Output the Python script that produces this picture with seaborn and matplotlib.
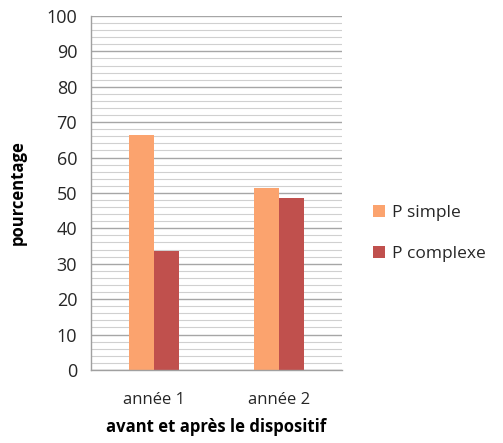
import matplotlib
matplotlib.use("Agg")
import matplotlib.pyplot as plt
import seaborn as sns
import pandas as pd
import numpy as np

categories = ["année 1", "année 2"]
series_names = ["P simple", "P complexe"]
p_simple = [66.4, 51.3]
p_complexe = [33.6, 48.6]
colors = ["#FBA36E", "#C0504D"]

df = pd.DataFrame({
    "annee": categories * 2,
    "serie": [series_names[0]] * 2 + [series_names[1]] * 2,
    "val": p_simple + p_complexe,
})

sns.set_style("white")
plt.rcParams["font.family"] = ["Open Sans", "DejaVu Sans"]

fig = plt.figure(figsize=(5.03, 4.43), dpi=100)
ax = fig.add_axes([0.181, 0.165, 0.499, 0.799])

sns.barplot(data=df, x="annee", y="val", hue="serie", palette=colors,
            width=0.4, gap=0, ax=ax, saturation=1, edgecolor="none")

ax.set_ylim(0, 100)
ax.set_xlim(-0.5, 1.5)
ax.set_yticks(np.arange(0, 101, 10))
ax.set_yticks(np.arange(0, 101, 2), minor=True)
ax.yaxis.grid(True, which="major", color="#A6A6A6", linewidth=1.0)
ax.yaxis.grid(True, which="minor", color="#D0D0D0", linewidth=0.8)
ax.set_axisbelow(True)

for s in ["top", "right"]:
    ax.spines[s].set_visible(False)
for s in ["left", "bottom"]:
    ax.spines[s].set_color("#A0A0A0")
    ax.spines[s].set_linewidth(1.0)

ax.tick_params(axis="y", which="major", length=5, color="#A0A0A0", labelsize=13, labelcolor="#262626", pad=5)
ax.tick_params(axis="y", which="minor", length=0)
ax.tick_params(axis="x", length=0, labelsize=12, labelcolor="#262626", pad=16)

ax.set_ylabel("pourcentage", fontsize=12, fontweight="bold", labelpad=14)
ax.set_xlabel("avant et après le dispositif", fontsize=12, fontweight="bold", labelpad=7)

leg = ax.legend(loc="center left", bbox_to_anchor=(1.06, 0.385), frameon=False,
                fontsize=12.5, handlelength=0.7, handleheight=0.7, handletextpad=0.4,
                labelspacing=1.45)
ax.yaxis.label.set_color("black")
ax.xaxis.label.set_color("black")

fig.savefig("out.png", dpi=100)
